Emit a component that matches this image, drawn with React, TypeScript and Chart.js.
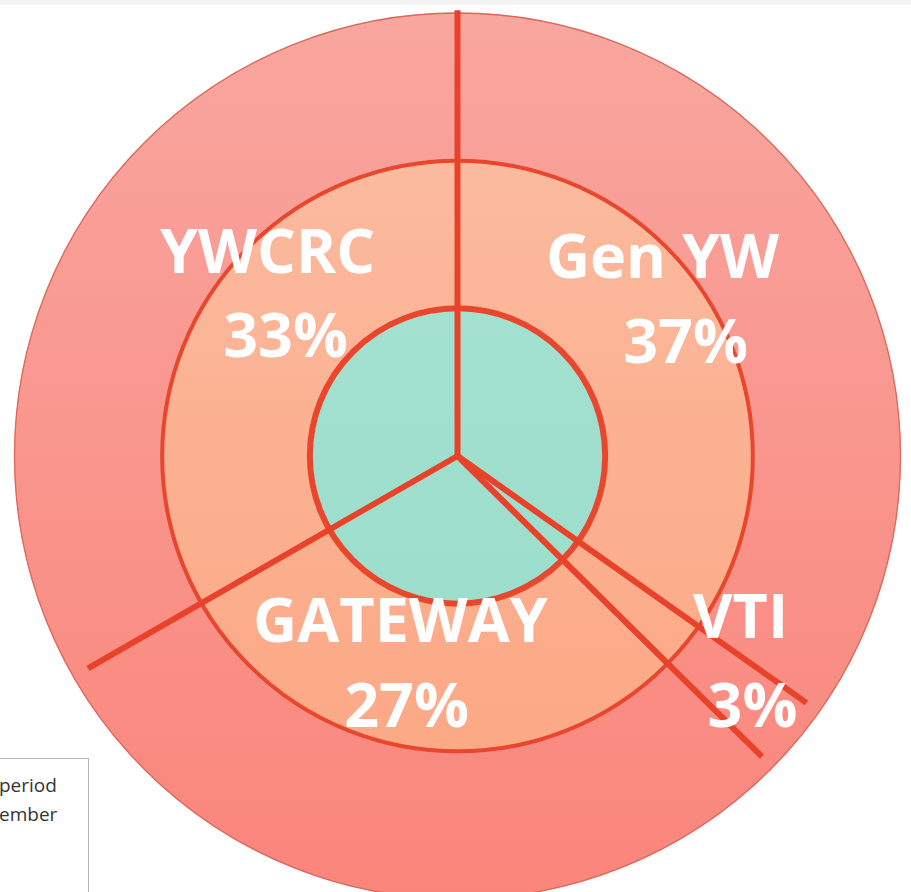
import React, { useEffect, useRef } from 'react';
import { Chart, registerables } from 'chart.js';

Chart.register(...registerables);

// Sector categories (clockwise from 12 o'clock)
const categories = ['Gen YW', 'VTI', 'GATEWAY', 'YWCRC'];
const sectorShares = [34.8, 2.6, 29.3, 33.3];
// Printed percentage labels
const percentLabels = ['37%', '3%', '27%', '33%'];

const RADIUS = 443;

// ring colours (top -> bottom gradient)
const ringColors: [string, string][] = [
  ['#f8a69f', '#fa857b'],
  ['#fbbea4', '#fca47f'],
  ['#a9e3d4', '#97dbc7'],
];

// label placement relative to centre: [dx1, dy1, dx2, dy2]
const labelOffsets = [
  [205, -178, 228, -93],
  [283, 182, 295, 271],
  [-57, 186, -51, 271],
  [-190, -183, -172, -99],
];
const lineReach = [1.006, 0.965, 0.966, 0.962];

function vGrad(chart: any, top: string, bottom: string) {
  const { ctx, chartArea } = chart;
  if (!chartArea) return top;
  const cy = (chartArea.top + chartArea.bottom) / 2;
  const g = ctx.createLinearGradient(0, cy - RADIUS, 0, cy + RADIUS);
  g.addColorStop(0, top);
  g.addColorStop(1, bottom);
  return g;
}

const overlayPlugin = {
  id: 'overlay',
  afterDatasetsDraw(chart: any) {
    const ctx = chart.ctx;
    const arcs = chart.getDatasetMeta(0).data;
    if (!arcs.length) return;
    const first = arcs[0];
    const cx = first.x;
    const cy = first.y;
    const R = first.outerRadius;
    const midR = chart.getDatasetMeta(1).data[0].outerRadius;
    const inR = chart.getDatasetMeta(2).data[0].outerRadius;
    ctx.save();
    ctx.strokeStyle = '#dc675d';
    ctx.lineWidth = 1.3;
    ctx.beginPath();
    ctx.arc(cx, cy, R, 0, Math.PI * 2);
    ctx.stroke();
    ctx.strokeStyle = '#e8472d';
    ctx.lineWidth = 4;
    ctx.beginPath();
    ctx.arc(cx, cy, midR, 0, Math.PI * 2);
    ctx.stroke();
    ctx.lineWidth = 6;
    ctx.beginPath();
    ctx.arc(cx, cy, inR, 0, Math.PI * 2);
    ctx.stroke();
    ctx.strokeStyle = '#e8432a';
    ctx.lineWidth = 6;
    ctx.lineCap = 'butt';
    ctx.lineJoin = 'round';
    arcs.forEach((a: any, i: number) => {
      const len = R * lineReach[i];
      const ang = a.startAngle;
      ctx.beginPath();
      ctx.moveTo(cx, cy);
      ctx.lineTo(cx + Math.cos(ang) * len, cy + Math.sin(ang) * len);
      ctx.stroke();
    });
    ctx.fillStyle = '#fefefe';
    ctx.font = 'bold 61px "Open Sans"';
    ctx.textAlign = 'center';
    ctx.textBaseline = 'alphabetic';
    categories.forEach((name, i) => {
      const [dx1, dy1, dx2, dy2] = labelOffsets[i];
      ctx.fillText(name, cx + dx1, cy + dy1);
      ctx.fillText(percentLabels[i], cx + dx2, cy + dy2);
    });
    ctx.restore();
  },
};

export default function App() {
  const canvasRef = useRef<HTMLCanvasElement | null>(null);
  useEffect(() => {
    if (!canvasRef.current) return;
    const chart = new Chart(canvasRef.current, {
      type: 'doughnut',
      data: {
        labels: categories,
        datasets: ringColors.map((c) => ({
          data: sectorShares,
          backgroundColor: (ctx: any) => vGrad(ctx.chart, c[0], c[1]),
          borderColor: (ctx: any) => vGrad(ctx.chart, c[0], c[1]),
          borderWidth: 1,
          weight: 1,
        })),
      },
      options: {
        animation: false,
        responsive: true,
        maintainAspectRatio: false,
        events: [],
        cutout: 0,
        radius: RADIUS,
        layout: { padding: 0 },
        plugins: { legend: { display: false }, tooltip: { enabled: false } },
      },
      plugins: [overlayPlugin],
    } as any);
    return () => chart.destroy();
  }, []);

  return (
    <div>
      <div style={{ position: 'fixed', left: 0, top: 0, width: 911, height: 5, background: '#f3f3f3' }} />
      <div style={{ position: 'fixed', left: 0, top: 0, width: 915, height: 912 }}>
        <canvas ref={canvasRef} />
      </div>
      <div
        style={{
          position: 'fixed',
          left: -120,
          top: 758,
          width: 207,
          height: 200,
          border: '1px solid #b4b4b4',
          background: '#fff',
        }}
      />
      <div
        style={{
          position: 'fixed',
          left: -1,
          top: 771,
          fontFamily: '"Open Sans", sans-serif',
          fontSize: 19,
          lineHeight: '29px',
          color: '#333',
          whiteSpace: 'pre',
        }}
      >
        {'period\nember'}
      </div>
    </div>
  );
}
